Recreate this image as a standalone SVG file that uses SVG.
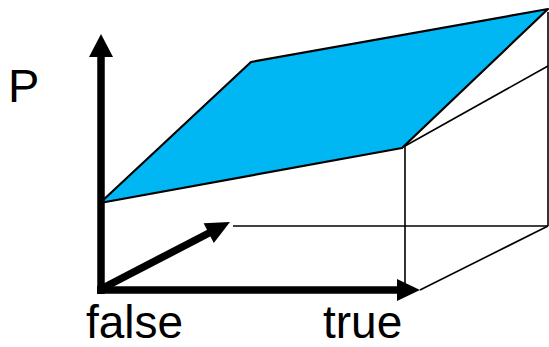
<svg xmlns="http://www.w3.org/2000/svg" width="549" height="347" viewBox="0 0 549 347">
<style>
.thin{stroke:#000;stroke-width:1.6;fill:none}
.thick{stroke:#000;stroke-width:7.5;fill:none}
.head{fill:#000;stroke:none}
.lbl{font-family:"Liberation Sans",Arial,sans-serif;font-size:46px;fill:#000}
</style>
<rect width="549" height="347" fill="#fff"/>
<g id="connectors">
<line class="thin" x1="405" y1="146" x2="405" y2="290"/>
<line class="thin" x1="405" y1="146" x2="548" y2="66"/>
<line class="thin" x1="548" y1="12" x2="548" y2="226"/>
<line class="thin" x1="233" y1="226" x2="548" y2="226"/>
<line class="thin" x1="548" y1="226" x2="420" y2="290"/>
</g>
<g id="plane">
<polygon points="100,203 251,62 548,9 402,148" fill="#00B7F3" stroke="#000" stroke-width="2.2" stroke-linejoin="round"/>
</g>
<g id="axis-p">
<line class="thick" x1="101" y1="294" x2="101" y2="55"/>
<polygon class="head" points="101,34 89,57 113,57"/>
</g>
<g id="axis-x">
<line class="thick" x1="97" y1="290" x2="399" y2="290"/>
<polygon class="head" points="420,290 397,279 397,301"/>
</g>
<g id="axis-depth">
<line class="thick" x1="101" y1="289" x2="210" y2="232.5"/>
<polygon class="head" points="230,222 203.6,223.3 213.8,242.9"/>
</g>
<g id="labels">
<text class="lbl" x="8" y="102" style="font-size:47px">P</text>
<text class="lbl" x="86" y="338">false</text>
<text class="lbl" x="323" y="338">true</text>
</g>
</svg>
